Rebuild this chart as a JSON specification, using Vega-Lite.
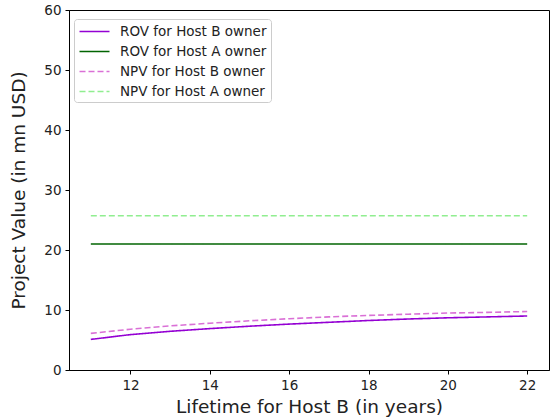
{
  "$schema": "https://vega.github.io/schema/vega-lite/v6.json",
  "width": 480,
  "height": 360,
  "autosize": "none",
  "padding": {"left": 69, "top": 10, "right": 3, "bottom": 48},
  "config": {
    "font": "DejaVu Sans",
    "view": {"stroke": "black", "strokeWidth": 1},
    "axis": {"grid": false, "domainColor": "black", "tickColor": "black", "labelColor": "#222", "titleColor": "#222", "labelFontSize": 13.5, "titleFontSize": 18.5, "titleFontWeight": "normal", "tickSize": 4, "labelPadding": 4}
  },
  "data": {"values": [
    {"x": 11, "y": 5.1, "s": "ROV for Host B owner"},
    {"x": 12, "y": 5.9, "s": "ROV for Host B owner"},
    {"x": 13, "y": 6.45, "s": "ROV for Host B owner"},
    {"x": 14, "y": 6.9, "s": "ROV for Host B owner"},
    {"x": 15, "y": 7.3, "s": "ROV for Host B owner"},
    {"x": 16, "y": 7.65, "s": "ROV for Host B owner"},
    {"x": 17, "y": 7.95, "s": "ROV for Host B owner"},
    {"x": 18, "y": 8.25, "s": "ROV for Host B owner"},
    {"x": 19, "y": 8.5, "s": "ROV for Host B owner"},
    {"x": 20, "y": 8.7, "s": "ROV for Host B owner"},
    {"x": 21, "y": 8.85, "s": "ROV for Host B owner"},
    {"x": 22, "y": 9.0, "s": "ROV for Host B owner"},
    {"x": 11, "y": 21, "s": "ROV for Host A owner"},
    {"x": 22, "y": 21, "s": "ROV for Host A owner"},
    {"x": 11, "y": 6.1, "s": "NPV for Host B owner"},
    {"x": 12, "y": 6.8, "s": "NPV for Host B owner"},
    {"x": 13, "y": 7.35, "s": "NPV for Host B owner"},
    {"x": 14, "y": 7.8, "s": "NPV for Host B owner"},
    {"x": 15, "y": 8.2, "s": "NPV for Host B owner"},
    {"x": 16, "y": 8.55, "s": "NPV for Host B owner"},
    {"x": 17, "y": 8.85, "s": "NPV for Host B owner"},
    {"x": 18, "y": 9.1, "s": "NPV for Host B owner"},
    {"x": 19, "y": 9.3, "s": "NPV for Host B owner"},
    {"x": 20, "y": 9.5, "s": "NPV for Host B owner"},
    {"x": 21, "y": 9.6, "s": "NPV for Host B owner"},
    {"x": 22, "y": 9.75, "s": "NPV for Host B owner"},
    {"x": 11, "y": 25.7, "s": "NPV for Host A owner"},
    {"x": 22, "y": 25.7, "s": "NPV for Host A owner"}
  ]},
  "mark": {"type": "line", "strokeWidth": 1.6},
  "encoding": {
    "x": {"field": "x", "type": "quantitative", "title": "Lifetime for Host B (in years)",
      "scale": {"domain": [10.45, 22.55], "nice": false, "zero": false},
      "axis": {"values": [12, 14, 16, 18, 20, 22], "titlePadding": 6}},
    "y": {"field": "y", "type": "quantitative", "title": "Project Value (in mn USD)",
      "scale": {"domain": [0, 60], "nice": false},
      "axis": {"values": [0, 10, 20, 30, 40, 50, 60], "titlePadding": 15}},
    "color": {"field": "s", "type": "nominal",
      "scale": {"domain": ["ROV for Host B owner", "ROV for Host A owner", "NPV for Host B owner", "NPV for Host A owner"],
        "range": ["#9400D3", "#006400", "#DA70D6", "#90EE90"]},
      "legend": {"title": null, "orient": "none", "legendX": 5, "legendY": 9, "symbolType": "M-2,0H2", "symbolSize": 225, "symbolOffset": 8, "symbolStrokeWidth": 1.6, "labelFontSize": 13.5, "labelColor": "#222", "strokeColor": "#ccc", "fillColor": "white", "padding": 4, "rowPadding": 5, "cornerRadius": 3, "labelOffset": 17}},
    "strokeDash": {"field": "s", "type": "nominal",
      "scale": {"domain": ["ROV for Host B owner", "ROV for Host A owner", "NPV for Host B owner", "NPV for Host A owner"],
        "range": [[1, 0], [1, 0], [6, 3], [6, 3]]}}
  }
}
